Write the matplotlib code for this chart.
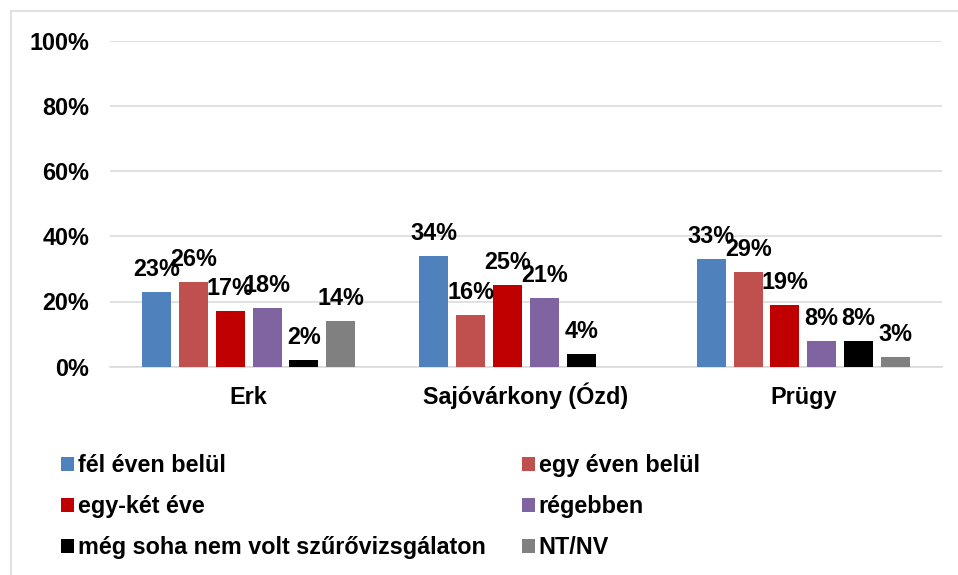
import matplotlib
matplotlib.use("Agg")
import matplotlib.pyplot as plt
import matplotlib.patches as mpatches
import numpy as np

# survey data: last screening visit, share of respondents per settlement
settlements = ["Erk", "Sajóvárkony (Ózd)", "Prügy"]
series_names = [
    "fél éven belül",
    "egy éven belül",
    "egy-két éve",
    "régebben",
    "még soha nem volt szűrővizsgálaton",
    "NT/NV",
]
fel_even_belul = [23, 34, 33]
egy_even_belul = [26, 16, 29]
egy_ket_eve = [17, 25, 19]
regebben = [18, 21, 8]
meg_soha = [2, 4, 8]
nt_nv = [14, np.nan, 3]

colors = ["#4F81BD", "#C0504D", "#C00000", "#8064A2", "#000000", "#808080"]
yticks = [0, 20, 40, 60, 80, 100]

FONT = "Liberation Sans"
FS = 16.8
GRID = "#D9D9D9"

plt.rcParams["font.family"] = [FONT, "DejaVu Sans"]
plt.rcParams["font.weight"] = "bold"

W, H = 958, 575
fig = plt.figure(figsize=(W / 100, H / 100), dpi=100)
ax = fig.add_axes([110 / W, 1 - 366.7 / H, 832 / W, (366.7 - 40.7) / H])

values = [fel_even_belul, egy_even_belul, egy_ket_eve, regebben, meg_soha, nt_nv]
x = np.arange(len(settlements))
pitch = 0.1327
width = 0.1046

handles = []
for i, (name, vals, col) in enumerate(zip(series_names, values, colors)):
    pos = x + (i - 2.5) * pitch
    bars = ax.bar(pos, vals, width=width, color=col, label=name, zorder=3)
    handles.append(bars)
    for xp, v in zip(pos, vals):
        if np.isnan(v):
            continue
        ax.annotate(f"{v:.0f}%", (xp, v), xytext=(0, 11.5), textcoords="offset points",
                    ha="center", va="baseline", fontsize=FS, fontweight="bold", zorder=4)

ax.set_xlim(-0.5, 2.5)
ax.set_ylim(0, 100)
ax.set_yticks(yticks)
ax.set_yticklabels([f"{t}%" for t in yticks])
ax.set_xticks(x)
ax.set_xticklabels([])
ax.tick_params(axis="y", length=0, pad=15, labelsize=FS)
ax.tick_params(axis="x", length=0)
for lbl in ax.get_yticklabels():
    lbl.set_fontweight("bold")

# category names share one baseline below the axis
for xc, name in zip(x, settlements):
    ax.annotate(name, (xc, 0), xytext=(0, -27), textcoords="offset points",
                ha="center", va="baseline", fontsize=FS, fontweight="bold",
                annotation_clip=False)

ax.grid(axis="y", color=GRID, linewidth=1.1, zorder=0)
for side in ["left", "right", "top"]:
    ax.spines[side].set_visible(False)
ax.spines["bottom"].set_color(GRID)
ax.spines["bottom"].set_linewidth(1.1)
ax.spines["bottom"].set_zorder(2)

# legend laid out row by row in two columns
order = [0, 2, 4, 1, 3, 5]
leg = fig.legend([handles[k] for k in order], [series_names[k] for k in order],
                 ncol=2, loc="upper left", bbox_to_anchor=(61 / W, 1 - 454 / H),
                 frameon=False, borderpad=0, borderaxespad=0,
                 handlelength=0.56, handleheight=0.56, handletextpad=0.17,
                 columnspacing=1.54, labelspacing=0.77,
                 prop={"family": FONT, "weight": "bold", "size": FS})

# chart-area frame
fig.patches.append(mpatches.Rectangle((11 / W, -0.1), 2, 1.1 - 11 / H,
                                      transform=fig.transFigure, fill=False,
                                      edgecolor=GRID, linewidth=1.1))

fig.savefig("out.png", dpi=100)
